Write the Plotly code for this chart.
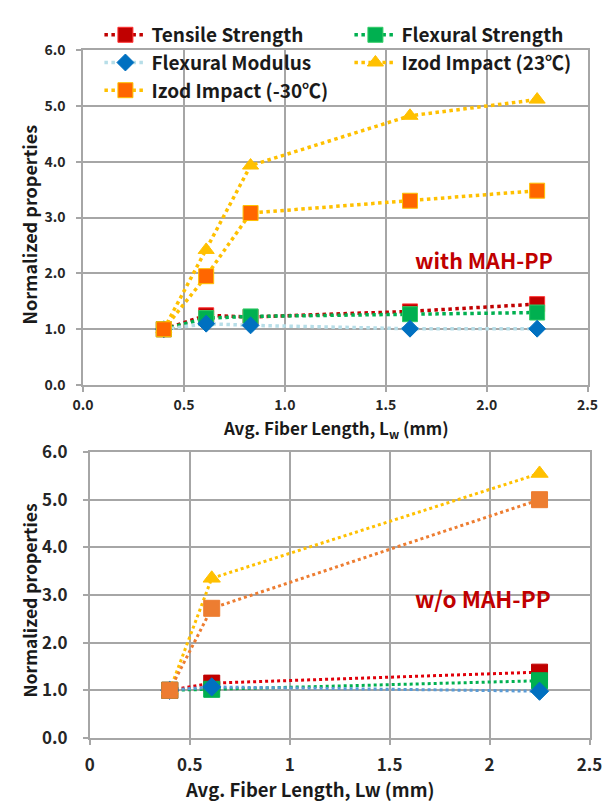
import plotly.graph_objects as go

# ---------------- data ----------------
x_with = [0.40, 0.61, 0.83, 1.62, 2.25]
tensile_with = [1.00, 1.25, 1.22, 1.32, 1.45]
flexstr_with = [1.00, 1.20, 1.23, 1.27, 1.30]
flexmod_with = [1.00, 1.10, 1.07, 1.01, 1.01]
izod23_with = [1.00, 2.42, 3.93, 4.82, 5.11]
izodm30_with = [1.00, 1.95, 3.08, 3.30, 3.48]

x_wo = [0.40, 0.61, 2.25]
tensile_wo = [1.00, 1.15, 1.38]
flexstr_wo = [1.00, 1.02, 1.20]
flexmod_wo = [1.00, 1.07, 0.98]
izod23_wo = [1.00, 3.35, 5.55]
izodm30_wo = [1.00, 2.72, 5.00]

names = ["Tensile Strength", "Flexural Strength", "Flexural Modulus",
         "Izod Impact (23\u2103)", "Izod Impact (-30\u2103)"]
y_ticks = [0, 1, 2, 3, 4, 5, 6]
x_ticks = [0, 0.5, 1, 1.5, 2, 2.5]

FONT = "Noto Sans CJK KR"
GRID = "#A6A6A6"

fig = go.Figure()

def add(x, y, name, line_color, mcolor, symbol, size, xa, ya, show, mline=None, lw=3.5):
    fig.add_trace(go.Scatter(
        x=x, y=y, name=name, mode="lines+markers",
        line=dict(color=line_color, width=lw, dash="dot"),
        marker=dict(color=mcolor, symbol=symbol, size=size,
                    line=dict(color=mline or mcolor, width=1)),
        xaxis=xa, yaxis=ya, showlegend=show))

# top chart (with MAH-PP) - Excel series order
add(x_with, tensile_with, names[0], "#C00000", "#C00000", "square", 15, "x", "y", True, mline="#FF3333")
add(x_with, flexstr_with, names[1], "#00B050", "#00B050", "square", 15, "x", "y", True, mline="#33CC66")
add(x_with, flexmod_with, names[2], "#B7DEE8", "#0070C0", "diamond", 13, "x", "y", True)
add(x_with, izod23_with, names[3], "#FFC000", "#FFC000", "triangle-up", 14, "x", "y", True)
add(x_with, izodm30_with, names[4], "#FFC000", "#FF6600", "square", 15, "x", "y", True, mline="#FFC000")

# bottom chart (w/o MAH-PP)
add(x_wo, tensile_wo, names[0], "#E0000A", "#C00000", "square", 16, "x2", "y2", False, lw=3)
add(x_wo, flexstr_wo, names[1], "#00B050", "#00B050", "square", 16, "x2", "y2", False, lw=3)
add(x_wo, flexmod_wo, names[2], "#5B9BD5", "#0070C0", "diamond", 14, "x2", "y2", False, lw=3)
add(x_wo, izod23_wo, names[3], "#FFC000", "#FFC000", "triangle-up", 15, "x2", "y2", False, lw=3)
add(x_wo, izodm30_wo, names[4], "#ED7D31", "#ED7D31", "square", 16, "x2", "y2", False, lw=3)

axis_common = dict(showgrid=True, gridcolor=GRID, gridwidth=1.5, showline=True,
                   linecolor=GRID, linewidth=1.5, mirror=True, zeroline=False,
                   ticks="outside", ticklen=5, tickcolor=GRID, tickwidth=1.5)

fig.update_layout(
    width=615, height=809, margin=dict(l=0, r=0, t=0, b=0),
    paper_bgcolor="white", plot_bgcolor="white",
    xaxis=dict(domain=[75/615, 600/615], range=[0, 2.5], tickvals=x_ticks,
               tickformat=".1f", anchor="y", ticklabelstandoff=1,
               tickfont=dict(family=FONT, size=14, color="#262626", weight="bold"),
               **axis_common),
    yaxis=dict(domain=[1-383/809, 1-37/809], range=[0, 6], tickvals=y_ticks,
               tickformat=".1f", anchor="x", ticklabelstandoff=8,
               tickfont=dict(family=FONT, size=14, color="#262626", weight="bold"),
               **axis_common),
    xaxis2=dict(domain=[82/615, 602/615], range=[0, 2.5], tickvals=x_ticks,
                anchor="y2", ticklabelstandoff=6,
                tickfont=dict(family=FONT, size=17, color="#262626", weight="bold"),
                **axis_common),
    yaxis2=dict(domain=[1-747/809, 1-452/809], range=[0, 6], tickvals=y_ticks,
                tickformat=".1f", anchor="x2", ticklabelstandoff=12,
                tickfont=dict(family=FONT, size=17, color="#262626", weight="bold"),
                **axis_common),
    legend=dict(orientation="h", x=92/615, y=1-2/809, xanchor="left", yanchor="top",
                bgcolor="rgba(0,0,0,0)", itemwidth=42, entrywidth=193,
                traceorder="normal",
                font=dict(family=FONT, size=19, color="#1a1a1a", weight="bold")),
)

ann = [
    dict(text="Avg. Fiber Length, L<sub>w</sub> (mm)", x=338/615, y=1-428/809,
         font=dict(family=FONT, size=17, color="#1a1a1a", weight="bold")),
    dict(text="Avg. Fiber Length, Lw (mm)", x=311/615, y=1-800/809,
         font=dict(family=FONT, size=18.5, color="#1a1a1a", weight="bold")),
    dict(text="Normalized properties", x=19/615, y=1-217/809, textangle=-90,
         font=dict(family=FONT, size=18, color="#1a1a1a", weight="bold")),
    dict(text="Normalized properties", x=19/615, y=1-605/809, textangle=-90,
         font=dict(family=FONT, size=17.5, color="#1a1a1a", weight="bold")),
    dict(text="with MAH-PP", x=492/615, y=1-253/809,
         font=dict(family=FONT, size=21.5, color="#C00000", weight="bold")),
    dict(text="w/o MAH-PP", x=491/615, y=1-603/809,
         font=dict(family=FONT, size=22.5, color="#C00000", weight="bold")),
]
for a in ann:
    a.update(xref="paper", yref="paper", showarrow=False, xanchor="center", yanchor="middle")
fig.update_layout(annotations=ann)

fig.write_html("out.html")
